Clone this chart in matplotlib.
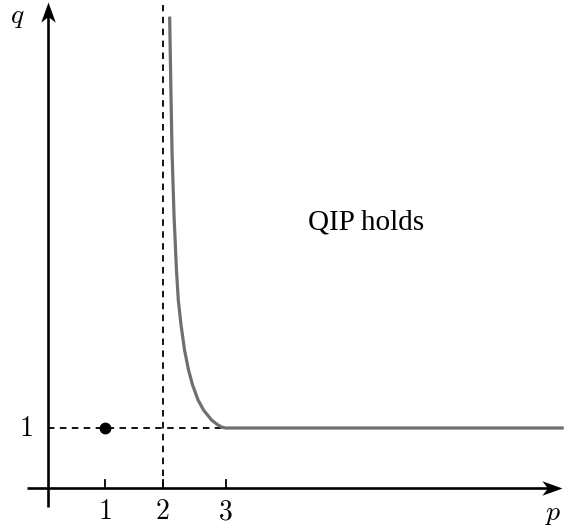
import matplotlib
matplotlib.use("Agg")
import matplotlib.pyplot as plt
from matplotlib.path import Path

plt.rcParams['mathtext.fontset'] = 'cm'

# data
curve_p = [2.125, 2.143, 2.165, 2.200, 2.243, 2.275, 2.322, 2.383, 2.452, 2.522, 2.617, 2.713, 2.856, 2.965, 3.03, 3.10, 8.95]
curve_q = [7.83, 6.80, 5.63, 4.55, 3.63, 3.13, 2.72, 2.30, 1.97, 1.72, 1.47, 1.30, 1.13, 1.05, 1.015, 1.00, 1.00]
p_tick_pos = [1, 2, 3.1]
p_tick_labels = ["1", "2", "3"]
q_tick_pos = [1]
q_tick_labels = ["1"]
point_p = [1]
point_q = [1]
region_label = "QIP holds"

fig = plt.figure(figsize=(5.64, 5.29), dpi=100)
ax = fig.add_axes([0, 0, 1, 1])
ax.set_xlim(-47.5 / 57.5, (564 - 47.5) / 57.5)
ax.set_ylim((488 - 529) / 60, 488 / 60)
ax.axis('off')

# arrow head marker (stealth-like), tip at origin
head = Path([(0, 0), (-1, 0.36), (-0.72, 0), (-1, -0.36), (0, 0)],
            [Path.MOVETO, Path.LINETO, Path.LINETO, Path.LINETO, Path.CLOSEPOLY])
head_up = Path([(0, 0), (0.36, -1), (0, -0.72), (-0.36, -1), (0, 0)],
               [Path.MOVETO, Path.LINETO, Path.LINETO, Path.LINETO, Path.CLOSEPOLY])

x_end = 8.95
y_end = 8.10
ax.plot([-0.36, x_end - 0.2], [0, 0], color='black', lw=1.9, solid_capstyle='butt', zorder=3)
ax.plot([0, 0], [-0.32, y_end - 0.2], color='black', lw=1.9, solid_capstyle='butt', zorder=3)
ax.plot([x_end], [0], marker=head, markersize=29, color='black', markeredgewidth=0, zorder=4)
ax.plot([0], [y_end], marker=head_up, markersize=29, color='black', markeredgewidth=0, zorder=4)

# dashed guides
ax.plot([2, 2], [0, 8.05], color='black', lw=1.3, ls=(0, (3.6, 3.0)), zorder=2)
ax.plot([0, p_tick_pos[-1]], [1, 1], color='black', lw=1.3, ls=(0, (3.6, 3.0)), zorder=2)

# ticks
for xp, lab in zip(p_tick_pos, p_tick_labels):
    ax.plot([xp, xp], [0, 8 / 60], color='black', lw=1.3, zorder=3)
    ax.text(xp, -0.15, '$' + lab + '$', ha='center', va='top', fontsize=20)
for yq, lab in zip(q_tick_pos, q_tick_labels):
    ax.text(-0.25, yq, '$' + lab + '$', ha='right', va='center', fontsize=20)

# curve
ax.plot(curve_p, curve_q, color='#6f6f6f', lw=2.3, solid_joinstyle='round', zorder=3)

# point
ax.plot(point_p, point_q, 'o', color='black', markersize=7.5, zorder=4)

# labels
ax.text((553 - 47.5) / 57.5, (488 - 513) / 60, '$p$', ha='center', va='center', fontsize=20)
ax.text((17 - 47.5) / 57.5, (488 - 16) / 60, '$q$', ha='center', va='center', fontsize=20)
ax.text((366 - 47.5) / 57.5, (488 - 222) / 60, region_label, ha='center', va='center',
        fontsize=21, family='Liberation Serif')

fig.savefig('out.png', dpi=100)
